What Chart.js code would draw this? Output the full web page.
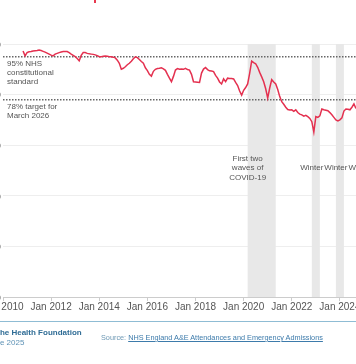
<!DOCTYPE html>
<html>
<head>
<meta charset="utf-8">
<script src="https://cdn.jsdelivr.net/npm/chart.js@4.4.1/dist/chart.umd.min.js"></script>
<style>
  html, body { margin:0; padding:0; background:#fff; width:356px; height:364px; overflow:hidden; position:relative; font-family:"Liberation Sans", Arial, sans-serif; }
  #wrap { position:absolute; left:-47px; top:0; width:425px; height:330px; }
  .ft { position:absolute; white-space:nowrap; line-height:1.15; }
</style>
</head>
<body>
<div id="wrap"><canvas id="c" width="425" height="330"></canvas></div>
<div class="ft" style="left:94px;top:0;width:2px;height:3px;background:#e8394f"></div>
<div class="ft" style="left:0;top:321px;width:356px;height:1px;background:#8fbcd4"></div>
<div class="ft" style="left:-5px;top:328px;font-weight:bold;font-size:8px;color:#2f6c95">The Health Foundation</div>
<div class="ft" style="left:-13px;top:338px;font-size:8px;color:#5f93b6">June 2025</div>
<div class="ft" style="left:101px;top:334px;font-size:7.3px;color:#6d98b4">Source: <span style="color:#3d7bab;text-decoration:underline">NHS England A&amp;E Attendances and Emergency Admissions</span></div>
<script>
// A&E 4-hour performance (% seen within 4 hours), monthly from Nov 2010
const firstMonth = 10; // months after Jan 2010 (Nov 2010)
const performance = [
  97.2, 95.3,
  96.6, 96.9, 97.0, 97.2, 97.3, 97.4, 97.6, 97.4, 97.1, 96.8, 96.4, 96.0,
  95.6, 95.3, 96.0, 96.3, 96.6, 96.8, 97.0, 97.0, 97.0, 96.6, 96.0, 95.5,
  95.0, 94.3, 93.4, 95.5, 96.6, 96.6, 96.3, 96.1, 96.0, 95.9, 95.7, 95.4,
  95.0, 95.0, 95.2, 95.3, 95.2, 95.0, 95.0, 94.8, 94.5, 93.6, 92.4, 90.0,
  90.4, 91.0, 91.8, 92.4, 93.2, 94.2, 94.9, 94.6, 93.9, 93.1, 92.4, 90.6,
  89.5, 88.0, 87.3, 89.2, 90.0, 90.3, 90.4, 90.6, 90.2, 89.6, 88.0, 86.5,
  85.1, 87.2, 89.7, 90.3, 90.0, 90.1, 90.0, 90.4, 89.9, 89.7, 88.0, 85.1,
  85.0, 84.9, 84.8, 88.5, 90.1, 90.7, 89.9, 89.4, 89.3, 89.1, 87.6, 86.5,
  85.0, 84.2, 86.2, 85.1, 86.5, 86.4, 86.4, 86.2, 84.8, 83.6, 81.4, 79.8,
  81.7, 82.8, 84.2, 88.4, 93.2, 92.6, 92.2, 90.8, 88.8, 87.0, 85.1, 82.3,
  78.6, 82.6, 85.9, 85.0, 84.2, 82.0, 79.2, 77.2, 76.2, 75.0, 74.1, 73.9,
  74.0, 73.4, 74.0, 72.9, 72.3, 72.0, 71.5, 71.8, 71.3, 70.6, 69.3, 65.2,
  71.3, 71.0, 71.6, 74.3, 74.0, 73.8, 73.6, 72.9, 72.0, 71.0, 70.0, 69.6,
  70.0, 70.8, 73.5, 74.3, 74.2, 74.0, 75.0, 76.3, 74.5
];
const standardValue = 95;   // NHS constitutional standard
const targetValue = 78;     // target for March 2026
const standardLabel = ['95% NHS', 'constitutional', 'standard'];
const targetLabel = ['78% target for', 'March 2026'];
const tickMonths = [0, 24, 48, 72, 96, 120, 144, 168];
const tickLabels = ['Jan 2010','Jan 2012','Jan 2014','Jan 2016','Jan 2018','Jan 2020','Jan 2022','Jan 2024'];
const yTicks = [0, 20, 40, 60, 80, 100];
const bandStart = [122, 154, 166, 178];
const bandEnd = [136, 158, 170, 182];
const bandLabels = [['First two', 'waves of', 'COVID-19'], ['Winter'], ['Winter'], ['Winter']];
const xMin = 0, xMax = 187;

const FONT = '"Liberation Sans", Arial, sans-serif';
const perfPoints = performance.map((v, i) => ({ x: firstMonth + i, y: v }));

const annotations = {
  id: 'annotations',
  beforeDatasetsDraw(chart) {
    const { ctx, chartArea: { top, bottom }, scales: { x } } = chart;
    ctx.save();
    ctx.fillStyle = '#e8e8e8';
    bandStart.forEach((s, i) => {
      const x0 = x.getPixelForValue(s), x1 = x.getPixelForValue(bandEnd[i]);
      ctx.fillRect(x0, top, x1 - x0, bottom - top);
    });
    ctx.restore();
  },
  afterDatasetsDraw(chart) {
    const { ctx, chartArea: { left }, scales: { x, y } } = chart;
    ctx.save();
    ctx.fillStyle = '#555';
    ctx.font = '8px ' + FONT;
    ctx.textBaseline = 'middle';
    ctx.textAlign = 'center';
    const midY = y.getPixelForValue(51);
    bandLabels.forEach((lines, i) => {
      const cx = x.getPixelForValue(bandStart[i]);
      const off = lines.length === 1 ? 0 : -1;
      lines.forEach((t, j) => ctx.fillText(t, cx, midY + (j + off) * 9.5));
    });
    ctx.textAlign = 'left';
    const sy = y.getPixelForValue(standardValue);
    standardLabel.forEach((t, j) => ctx.fillText(t, left + 4, sy + 7 + j * 9));
    const ty = y.getPixelForValue(targetValue);
    targetLabel.forEach((t, j) => ctx.fillText(t, left + 4, ty + 7.5 + j * 9));
    ctx.restore();
  }
};

new Chart(document.getElementById('c'), {
  type: 'line',
  data: {
    datasets: [
      { data: perfPoints, borderColor: '#e4304f', borderWidth: 1.5, pointRadius: 0, tension: 0 },
      { data: [{ x: xMin, y: standardValue }, { x: xMax, y: standardValue }], borderColor: '#666', borderWidth: 1.5, borderDash: [1.5, 1.5], pointRadius: 0 },
      { data: [{ x: xMin, y: targetValue }, { x: xMax, y: targetValue }], borderColor: '#666', borderWidth: 1.5, borderDash: [1.5, 1.5], pointRadius: 0 }
    ]
  },
  options: {
    responsive: false,
    animation: false,
    layout: { padding: { top: 44, left: 0, right: 0, bottom: 0 } },
    plugins: { legend: { display: false }, tooltip: { enabled: false } },
    scales: {
      x: {
        type: 'linear', min: xMin, max: xMax,
        afterBuildTicks: s => { s.ticks = tickMonths.map(v => ({ value: v })); },
        afterFit: s => { s.height = 33; },
        ticks: { callback: v => tickLabels[tickMonths.indexOf(v)], color: '#555', font: { family: FONT, size: 10 }, padding: 0, maxRotation: 0, autoSkip: false },
        grid: { drawOnChartArea: false, drawTicks: true, tickLength: 4, color: '#ccc' },
        border: { color: '#ccc' }
      },
      y: {
        min: 0, max: 100,
        afterBuildTicks: s => { s.ticks = yTicks.map(v => ({ value: v })); },
        afterFit: s => { s.width = 50; },
        ticks: { callback: v => v + '%', padding: 2, color: '#666', font: { family: FONT, size: 10 } },
        grid: { color: '#eee', drawTicks: false },
        border: { display: false }
      }
    }
  },
  plugins: [annotations]
});
</script>
</body>
</html>
